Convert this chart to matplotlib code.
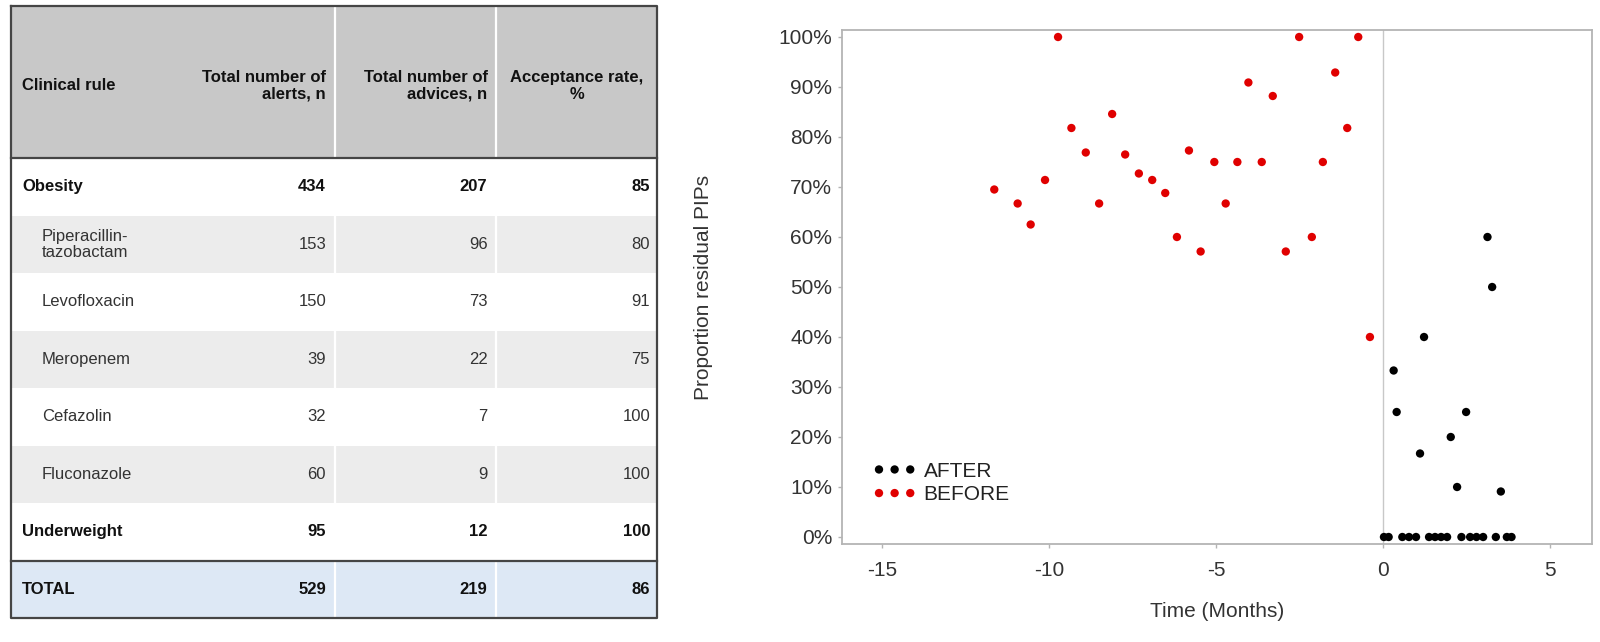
import matplotlib
matplotlib.use("Agg")
import matplotlib.pyplot as plt
from matplotlib import font_manager
from matplotlib.patches import Rectangle
from matplotlib.ticker import PercentFormatter, FixedLocator

# ---------------- data ----------------
rules = ["Obesity", "Piperacillin-\ntazobactam", "Levofloxacin", "Meropenem",
         "Cefazolin", "Fluconazole", "Underweight", "TOTAL"]
rule_level = [0, 1, 1, 1, 1, 1, 0, 0]          # 0 = main rule / total, 1 = sub item
alerts = [434, 153, 150, 39, 32, 60, 95, 529]
advices = [207, 96, 73, 22, 7, 9, 12, 219]
acceptance = [85, 80, 91, 75, 100, 100, 100, 86]
headers = ["Clinical rule", "Total number of\nalerts, n",
           "Total number of\nadvices, n", "Acceptance rate,\n%"]

before_x = [-11.64, -10.94, -10.55, -10.12, -9.73, -9.33, -8.90, -8.50, -8.11, -7.72,
            -7.31, -6.91, -6.52, -6.17, -5.81, -5.46, -5.05, -4.71, -4.36, -4.03,
            -3.63, -3.30, -2.91, -2.51, -2.13, -1.80, -1.43, -1.07, -0.74, -0.39]
before_y = [0.695, 0.667, 0.625, 0.714, 1.000, 0.818, 0.769, 0.667, 0.846, 0.765,
            0.727, 0.714, 0.688, 0.600, 0.773, 0.571, 0.750, 0.667, 0.750, 0.909,
            0.750, 0.882, 0.571, 1.000, 0.600, 0.750, 0.929, 0.818, 1.000, 0.400]
after_x = [0.32, 0.41, 1.11, 1.23, 2.03, 2.22, 2.49, 3.13, 3.27, 3.53,
           0.03, 0.17, 0.58, 0.78, 0.99, 1.38, 1.56, 1.74, 1.92, 2.35,
           2.61, 2.80, 3.00, 3.38, 3.71, 3.85]
after_y = [0.333, 0.250, 0.167, 0.400, 0.200, 0.100, 0.250, 0.600, 0.500, 0.091,
           0, 0, 0, 0, 0, 0, 0, 0, 0, 0,
           0, 0, 0, 0, 0, 0]
x_ticks = [-15, -10, -5, 0, 5]
y_ticks = [0.0, 0.1, 0.2, 0.3, 0.4, 0.5, 0.6, 0.7, 0.8, 0.9, 1.0]

# ---------------- fonts ----------------
plt.rcParams['axes.unicode_minus'] = False
names = {f.name for f in font_manager.fontManager.ttflist}
if 'Liberation Sans Narrow' in names:
    tfam, tsize = ['Liberation Sans Narrow', 'Liberation Sans'], 14
else:
    tfam, tsize = ['Liberation Sans', 'DejaVu Sans'], 12
pfam = ['Liberation Sans', 'DejaVu Sans']

fig = plt.figure(figsize=(16, 6.42), dpi=100)
fig.patch.set_facecolor('white')

# ---------------- table ----------------
axt = fig.add_axes([0, 0, 660 / 1600, 1])
axt.set_xlim(0, 660)
axt.set_ylim(642, 0)
axt.axis('off')

L, R = 11, 657
col_div = [335, 496]
top, head_bot, row_h = 6, 158, 57.5
n = len(rules)
bottom = head_bot + n * row_h

axt.add_patch(Rectangle((L, top), R - L, head_bot - top, facecolor='#c8c8c8', edgecolor='none'))
for i in range(n):
    y0 = head_bot + i * row_h
    if i == n - 1:
        fc = '#dde8f5'
    elif i % 2 == 1:
        fc = '#ececec'
    else:
        fc = 'white'
    axt.add_patch(Rectangle((L, y0), R - L, row_h, facecolor=fc, edgecolor='none'))

for xd in col_div:
    axt.plot([xd, xd], [top, bottom], color='white', lw=1.6, zorder=2)

dark = '#454545'
axt.plot([L, R, R, L, L], [top, top, bottom, bottom, top], color=dark, lw=1.6, zorder=3)
axt.plot([L, R], [head_bot, head_bot], color=dark, lw=1.6, zorder=3)
axt.plot([L, R], [bottom - row_h, bottom - row_h], color=dark, lw=1.6, zorder=3)

num_right = [326, 487.5]
acc_right = 650
hy = (top + head_bot) / 2 + 4
axt.text(22, hy, headers[0], ha='left', va='center', fontsize=tsize, family=tfam,
         fontweight='bold', color='#111111')
axt.text(num_right[0], hy, headers[1], ha='right', va='center', fontsize=tsize, family=tfam,
         fontweight='bold', color='#111111', multialignment='right', linespacing=1.1)
axt.text(num_right[1], hy, headers[2], ha='right', va='center', fontsize=tsize, family=tfam,
         fontweight='bold', color='#111111', multialignment='right', linespacing=1.1)
axt.text((col_div[1] + R) / 2, hy, headers[3], ha='center', va='center', fontsize=tsize,
         family=tfam, fontweight='bold', color='#111111', multialignment='center', linespacing=1.1)

for i in range(n):
    yc = head_bot + (i + 0.5) * row_h
    bold = rule_level[i] == 0
    fw = 'bold' if bold else 'normal'
    col = '#111111' if bold else '#333333'
    xl = 22 if rule_level[i] == 0 else 42
    axt.text(xl, yc, rules[i], ha='left', va='center', fontsize=tsize, family=tfam,
             fontweight=fw, color=col, linespacing=1.1)
    axt.text(num_right[0], yc, str(alerts[i]), ha='right', va='center', fontsize=tsize,
             family=tfam, fontweight=fw, color=col)
    axt.text(num_right[1], yc, str(advices[i]), ha='right', va='center', fontsize=tsize,
             family=tfam, fontweight=fw, color=col)
    axt.text(acc_right, yc, str(acceptance[i]), ha='right', va='center', fontsize=tsize,
             family=tfam, fontweight=fw, color=col)

# ---------------- scatter ----------------
ax = fig.add_axes([842 / 1600, 98 / 642, 750 / 1600, 514 / 642])
ax.axvline(0, color='#c8c8c8', lw=1.0, zorder=0)
ha = ax.scatter(after_x, after_y, s=36, color='black', edgecolors='none', zorder=3, label='AFTER')
hb = ax.scatter(before_x, before_y, s=36, color='#e00000', edgecolors='none', zorder=3, label='BEFORE')

ax.set_xlim(-16.2, 6.26)
ax.set_ylim(-0.014, 1.014)
ax.xaxis.set_major_locator(FixedLocator(x_ticks))
ax.yaxis.set_major_locator(FixedLocator(y_ticks))
ax.yaxis.set_major_formatter(PercentFormatter(1.0, decimals=0))
for sp in ax.spines.values():
    sp.set_color('#b4b4b4')
    sp.set_linewidth(1.3)
ax.tick_params(axis='both', direction='out', length=3, width=1, color='#b4b4b4',
               labelsize=15, labelcolor='#333333')
ax.tick_params(axis='x', pad=9)
ax.tick_params(axis='y', pad=4)
for lab in ax.get_xticklabels() + ax.get_yticklabels():
    lab.set_family(pfam)

ax.set_ylabel('Proportion residual PIPs', fontsize=15, color='#333333', family=pfam)
ax.set_xlabel('Time (Months)', fontsize=15, color='#333333', family=pfam)
ax.yaxis.set_label_coords(-0.172, 0.5)
ax.xaxis.set_label_coords(0.5, -0.113)

leg = ax.legend(handles=[ha, hb], labels=['AFTER', 'BEFORE'], loc='upper left',
                bbox_to_anchor=(0.041, 0.160), frameon=False, scatterpoints=3,
                scatteryoffsets=[0.5], handlelength=2.1, handletextpad=0.34,
                labelspacing=0.22, borderpad=0, borderaxespad=0,
                prop={'family': pfam, 'size': 15})
for t in leg.get_texts():
    t.set_color('#222222')

fig.savefig('out.png', dpi=100, facecolor='white')
